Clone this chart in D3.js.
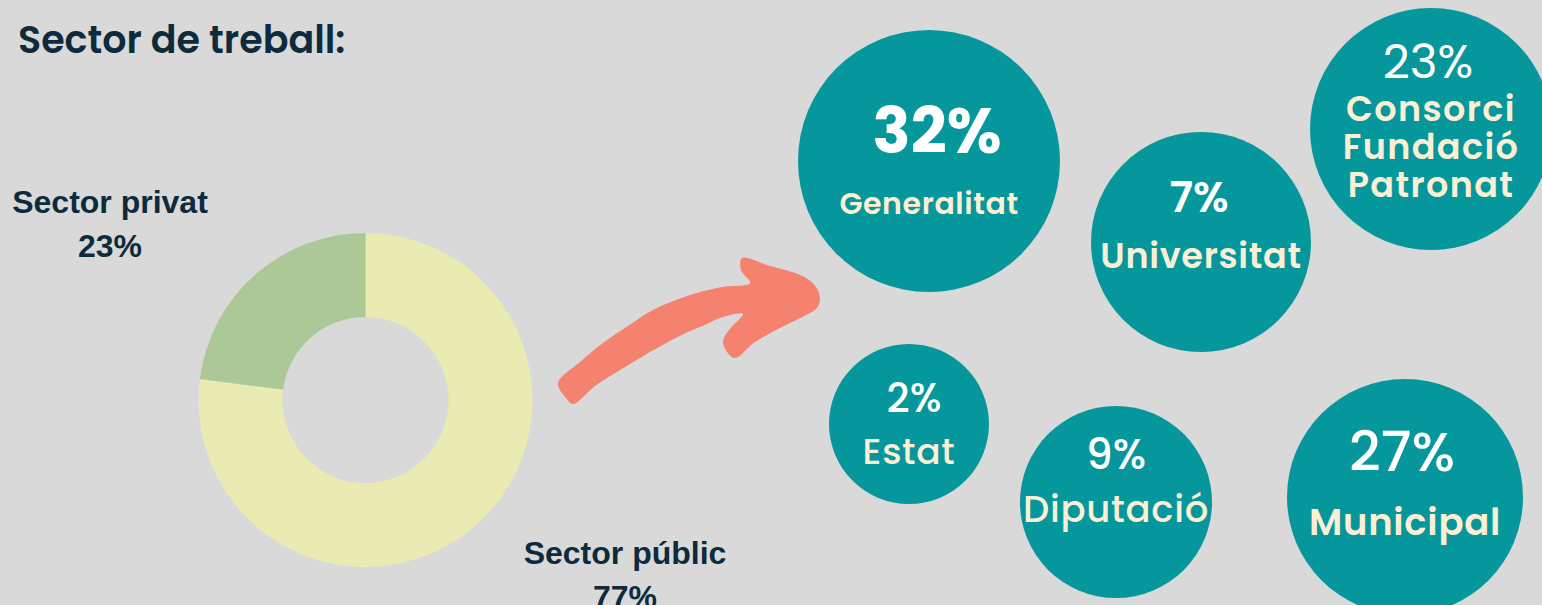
<!DOCTYPE html>
<html>
<head>
<meta charset="utf-8">
<script src="https://cdn.jsdelivr.net/npm/d3@7"></script>
<style>
  html, body { margin: 0; padding: 0; background: #d9d9d9; }
  svg { display: block; }
</style>
</head>
<body>
<svg id="chart" width="1542" height="605"></svg>
<script>
// Donut data
const sectorCategories = ['Sector públic', 'Sector privat'];
const sectorValues = [77, 23];

// Bubble data (public sector breakdown)
const bubbleValues = [32, 7, 23, 2, 9, 27];
const bubbleLabels = [
    ['Generalitat'],
    ['Universitat'],
    ['Consorci', 'Fundació', 'Patronat'],
    ['Estat'],
    ['Diputació'],
    ['Municipal']
];

// Layout for the bubbles (where each one sits on the page)
const bubbleLayout = [
    { cx: 929, cy: 161, r: 131, pctDy: -8,  pctSize: 63, pctWeight: 700, pctDx: 8,  labelDy: [53], labelSize: 30, labelWeight: 600 },
    { cx: 1201, cy: 242, r: 110, pctDy: -30, pctSize: 43, pctWeight: 600, pctDx: -2, labelDy: [26], labelSize: 35, labelWeight: 600 },
    { cx: 1431, cy: 129, r: 121, pctDy: -51, pctSize: 47, pctWeight: 400, pctDx: -3, labelDy: [-8, 30, 68], labelSize: 35, labelWeight: 600 },
    { cx: 909, cy: 424, r: 80,  pctDy: -12, pctSize: 40, pctWeight: 500, pctDx: 5,  labelDy: [40], labelSize: 36, labelWeight: 500 },
    { cx: 1116, cy: 502, r: 96,  pctDy: -33, pctSize: 42, pctWeight: 500, pctDx: 0,  labelDy: [20], labelSize: 37, labelWeight: 500 },
    { cx: 1405, cy: 497, r: 118, pctDy: -26, pctSize: 55, pctWeight: 500, pctDx: -3, labelDy: [38], labelSize: 37, labelWeight: 600 }
];

const width = 1542;
const height = 605;

const colors = {
    background: '#d9d9d9',
    title: '#0e2a3d',
    teal: '#05979b',
    pct: '#ffffff',
    label: '#fcefd4',
    arrow: '#f4826f'
};

const roundFont = 'Poppins, Inter, "Open Sans", sans-serif';
const plainFont = '"Liberation Sans", Arial, sans-serif';

const svg = d3.select('#chart');

svg.append('rect')
    .attr('width', width)
    .attr('height', height)
    .attr('fill', colors.background);

// Title
svg.append('text')
    .attr('x', 18)
    .attr('y', 53)
    .attr('font-family', roundFont)
    .attr('font-weight', 600)
    .attr('font-size', 38)
    .attr('fill', colors.title)
    .text('Sector de treball:');

// --- Donut ---
const donutColor = d3.scaleOrdinal()
    .domain(sectorCategories)
    .range(['#e9ebb3', '#abc896']);

const pie = d3.pie()
    .sort(null)
    .value(d => d);

const arc = d3.arc()
    .innerRadius(83)
    .outerRadius(167);

const donut = svg.append('g')
    .attr('transform', 'translate(365.5,400)');

donut.selectAll('path')
    .data(pie(sectorValues))
    .join('path')
    .attr('d', arc)
    .attr('fill', (d, i) => donutColor(sectorCategories[i]));

// Donut labels
const donutLabelPos = [
    { x: 625, y: 564 },
    { x: 110, y: 213 }
];

sectorCategories.forEach((name, i) => {
    const t = svg.append('text')
        .attr('text-anchor', 'middle')
        .attr('font-family', plainFont)
        .attr('font-weight', 700)
        .attr('font-size', 32)
        .attr('fill', colors.title);
    t.append('tspan')
        .attr('x', donutLabelPos[i].x)
        .attr('y', donutLabelPos[i].y)
        .text(name);
    t.append('tspan')
        .attr('x', donutLabelPos[i].x)
        .attr('y', donutLabelPos[i].y + 44)
        .text(sectorValues[i] + '%');
});

// --- Arrow (brush stroke) ---
const arrowPoints = [
    [558, 383], [580, 362], [603, 343], [628, 326], [653, 310], [676, 300], [697, 293], [722, 287], [750, 283],
    [741, 270], [742, 258], [770, 266], [792, 272], [806, 278], [816, 287], [820, 298], [817, 308], [808, 314],
    [780, 328], [755, 342], [735, 358], [727, 352], [723, 341], [729, 330], [743, 314],
    [720, 318], [707, 324], [688, 332], [670, 341], [645, 355], [620, 370], [595, 386], [573, 404], [566, 398]
];

svg.append('path')
    .attr('d', d3.line().curve(d3.curveCatmullRomClosed.alpha(0.5))(arrowPoints))
    .attr('fill', colors.arrow);

// --- Bubbles ---
const bubbles = svg.selectAll('g.bubble')
    .data(bubbleValues.map((v, i) => ({ value: v, labels: bubbleLabels[i], layout: bubbleLayout[i] })))
    .join('g')
    .attr('class', 'bubble')
    .attr('transform', d => `translate(${d.layout.cx},${d.layout.cy})`);

bubbles.append('circle')
    .attr('r', d => d.layout.r)
    .attr('fill', colors.teal);

bubbles.append('text')
    .attr('x', d => d.layout.pctDx)
    .attr('y', d => d.layout.pctDy)
    .attr('text-anchor', 'middle')
    .attr('font-family', roundFont)
    .attr('font-size', d => d.layout.pctSize)
    .attr('font-weight', d => d.layout.pctWeight)
    .attr('fill', colors.pct)
    .text(d => d.value + '%');

bubbles.each(function(d) {
    const g = d3.select(this);
    d.labels.forEach((line, j) => {
        g.append('text')
            .attr('x', 0)
            .attr('y', d.layout.labelDy[j])
            .attr('text-anchor', 'middle')
            .attr('font-family', roundFont)
            .attr('font-size', d.layout.labelSize)
            .attr('font-weight', d.layout.labelWeight)
            .attr('letter-spacing', d.labels.length > 1 ? '0.04em' : '0.02em')
            .attr('fill', colors.label)
            .text(line);
    });
});
</script>
</body>
</html>
